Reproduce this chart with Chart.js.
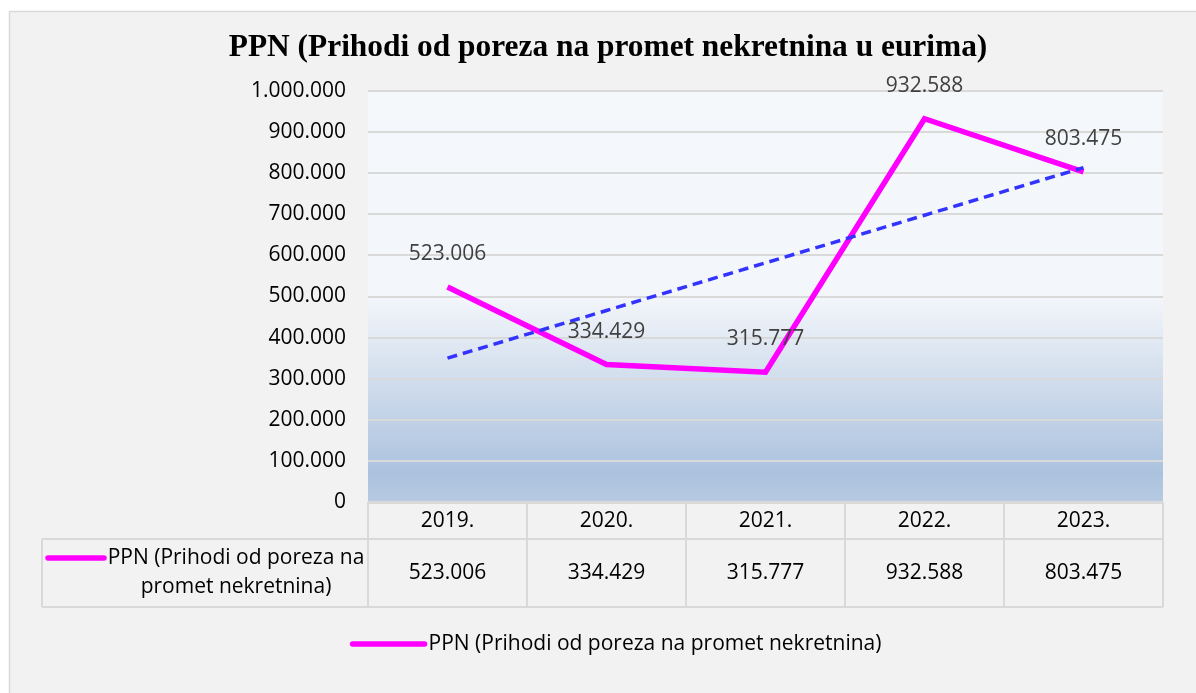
<!DOCTYPE html>
<html>
<head>
<meta charset="utf-8">
<script src="https://cdn.jsdelivr.net/npm/chart.js@4.4.1/dist/chart.umd.min.js"></script>
<style>
    html, body { margin: 0; padding: 0; background: #fff; }
    #wrap { width: 1196px; height: 693px; }
</style>
</head>
<body>
<div id="wrap"><canvas id="ppnChart" width="1196" height="693"></canvas></div>
<script>

var chartTitle = "PPN (Prihodi od poreza na promet nekretnina u eurima)";
var seriesName = "PPN (Prihodi od poreza na promet nekretnina)";
var tableLabelLines = ["PPN (Prihodi od poreza na", "promet nekretnina)"];
var years = ["2019.", "2020.", "2021.", "2022.", "2023."];
var prihodi = [523006, 334429, 315777, 932588, 803475];
var yMin = 0, yMax = 1000000, yStep = 100000;

var FONT = "'Open Sans', 'Noto Sans', sans-serif";

// tacka kao separator hiljada
function fmt(v) {
    return String(Math.round(v)).replace(/\B(?=(\d{3})+(?!\d))/g, '.');
}

// linearni trend (najmanji kvadrati), kao u Excelu
function linearTrend(vals) {
    var n = vals.length, sx = 0, sy = 0, sxy = 0, sxx = 0;
    for (var i = 0; i < n; i++) {
        sx += i; sy += vals[i]; sxy += i * vals[i]; sxx += i * i;
    }
    var b = (n * sxy - sx * sy) / (n * sxx - sx * sx);
    var a = (sy - b * sx) / n;
    return vals.map(function(v, i) { return a + b * i; });
}

var ppnPlugin = {
    id: 'ppnPlugin',
    beforeDraw: function(chart) {
        var ctx = chart.ctx, ca = chart.chartArea;
        ctx.save();
        ctx.fillStyle = '#ffffff';
        ctx.fillRect(0, 0, chart.width, chart.height);
        // okvir
        ctx.fillStyle = '#f2f2f2';
        ctx.fillRect(9, 11, chart.width, chart.height);
        ctx.strokeStyle = '#d9d9d9';
        ctx.lineWidth = 1.5;
        ctx.strokeRect(9.5, 11.5, chart.width + 10, chart.height + 10);

        // pozadina plot area
        var g = ctx.createLinearGradient(0, ca.top, 0, ca.bottom);
        g.addColorStop(0, '#f5f8fb');
        g.addColorStop(0.5, '#f3f6fa');
        g.addColorStop(0.93, '#abc2de');
        g.addColorStop(1, '#b7cae2');
        ctx.fillStyle = g;
        ctx.fillRect(ca.left, ca.top, ca.right - ca.left, ca.bottom - ca.top);

        // naslov
        var size = 29;
        ctx.font = 'bold ' + size + "px 'Liberation Serif', serif";
        var w = ctx.measureText(chartTitle).width;
        size = size * 758 / w;
        ctx.font = 'bold ' + size.toFixed(1) + "px 'Liberation Serif', serif";
        ctx.fillStyle = '#000';
        ctx.textAlign = 'center';
        ctx.textBaseline = 'middle';
        ctx.fillText(chartTitle, 608, 48);
        ctx.restore();
    },
    afterDatasetsDraw: function(chart) {
        var ctx = chart.ctx;
        var meta = chart.getDatasetMeta(1);
        ctx.save();
        ctx.font = '21px ' + FONT;
        ctx.fillStyle = '#404040';
        ctx.textAlign = 'center';
        ctx.textBaseline = 'middle';
        meta.data.forEach(function(pt, i) {
            ctx.fillText(fmt(prihodi[i]), pt.x, pt.y - 33);
        });
        ctx.restore();
    },
    afterDraw: function(chart) {
        var ctx = chart.ctx, ca = chart.chartArea;
        var xs = chart.scales.x;
        var colW = (ca.right - ca.left) / years.length;
        var tLeft = 42, rowTop = ca.bottom, rowMid = ca.bottom + 37, rowBot = ca.bottom + 105;

        ctx.save();
        ctx.strokeStyle = '#d9d9d9';
        ctx.lineWidth = 2;
        ctx.beginPath();
        ctx.moveTo(ca.left, rowTop + 1); ctx.lineTo(ca.right, rowTop + 1);
        ctx.moveTo(tLeft, rowMid); ctx.lineTo(ca.right, rowMid);
        ctx.moveTo(tLeft, rowBot); ctx.lineTo(ca.right, rowBot);
        ctx.moveTo(tLeft, rowMid); ctx.lineTo(tLeft, rowBot);
        for (var c = 0; c <= years.length; c++) {
            var x = ca.left + c * colW;
            ctx.moveTo(x, rowTop); ctx.lineTo(x, rowBot);
        }
        ctx.stroke();

        ctx.font = '21px ' + FONT;
        ctx.fillStyle = '#000';
        ctx.textAlign = 'center';
        ctx.textBaseline = 'middle';
        years.forEach(function(y, i) {
            var cx = xs.getPixelForValue(i);
            ctx.fillText(y, cx, rowTop + 19);
            ctx.fillText(fmt(prihodi[i]), cx, rowMid + 34);
        });

        // legenda u tabeli
        ctx.strokeStyle = '#ff00ff';
        ctx.lineWidth = 5.5;
        ctx.lineCap = 'round';
        ctx.beginPath();
        ctx.moveTo(48, rowMid + 19); ctx.lineTo(104, rowMid + 19);
        ctx.stroke();
        ctx.fillText(tableLabelLines[0], 236, rowMid + 19);
        ctx.fillText(tableLabelLines[1], 236, rowMid + 48);

        // legenda dole
        var tw = ctx.measureText(seriesName).width;
        var total = 72 + 4 + tw;
        var lx = 617 - total / 2, ly = 644;
        ctx.beginPath();
        ctx.moveTo(lx, ly); ctx.lineTo(lx + 72, ly);
        ctx.stroke();
        ctx.textAlign = 'left';
        ctx.fillText(seriesName, lx + 76, ly);
        ctx.restore();
    }
};

var ppnCtx = document.getElementById('ppnChart');
var ppnChart = new Chart(ppnCtx, {
    type: 'line',
    data: {
        labels: years,
        datasets: [{
            label: 'Linear trend',
            data: linearTrend(prihodi),
            borderColor: '#3333ff',
            borderWidth: 3.5,
            borderDash: [10, 6],
            pointRadius: 0,
            fill: false,
            tension: 0,
            order: 0
        }, {
            label: seriesName,
            data: prihodi,
            borderColor: '#ff00ff',
            backgroundColor: '#ff00ff',
            borderWidth: 5.5,
            pointRadius: 0,
            fill: false,
            tension: 0, /* bez krivine */
            order: 1
        }]
    },
    options: {
        responsive: false,
        animation: false,
        devicePixelRatio: 1,
        layout: {
            padding: { left: 0, right: 33, top: 91, bottom: 191 }
        },
        plugins: {
            legend: { display: false },
            title: { display: false },
            tooltip: { enabled: false }
        },
        scales: {
            x: {
                display: false,
                offset: true
            },
            y: {
                min: yMin,
                max: yMax,
                afterFit: function(scale) { scale.width = 368; },
                border: { display: false },
                grid: { color: '#d9d9d9', lineWidth: 2, drawTicks: false },
                ticks: {
                    stepSize: yStep,
                    padding: 22,
                    color: '#000',
                    font: { family: FONT, size: 21 },
                    callback: function(v) { return fmt(v); }
                }
            }
        }
    },
    plugins: [ppnPlugin]
});

</script>
</body>
</html>
